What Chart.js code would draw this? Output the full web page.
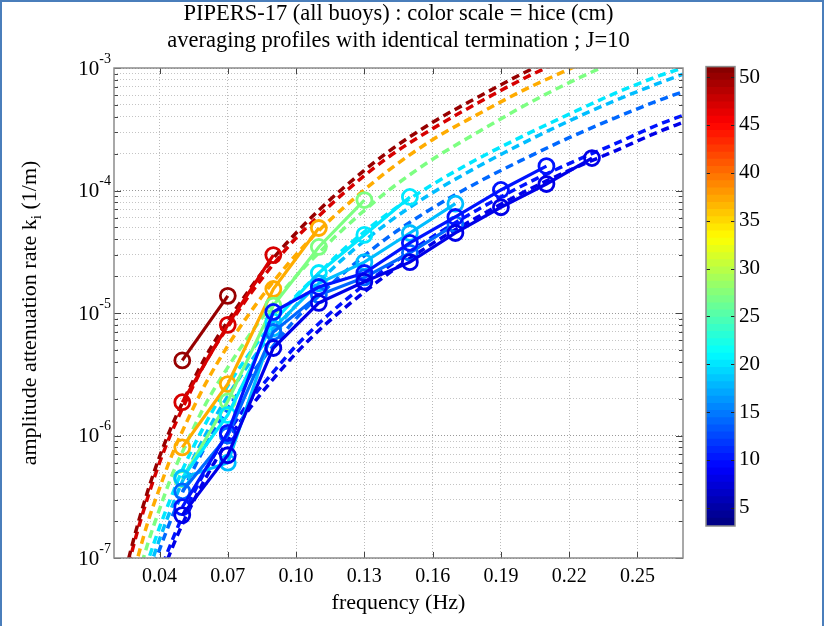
<!DOCTYPE html>
<html>
<head>
<meta charset="utf-8">
<script src="https://cdn.jsdelivr.net/npm/chart.js@4.4.0/dist/chart.umd.min.js"></script>
<style>
  html, body { margin: 0; padding: 0; background: #fff; }
  body { width: 826px; height: 626px; position: relative; overflow: hidden; }
  #frame { position: absolute; left: 0; top: 0; width: 820px; height: 640px; border: 2px solid #4a7ebb; }
  #main { position: absolute; left: 0; top: 0; }
  #cbar { position: absolute; left: 690px; top: 50px; }
</style>
</head>
<body>
<div id="frame"></div>
<canvas id="main" width="826" height="626"></canvas>
<canvas id="cbar" width="136" height="500"></canvas>
<script>
const mainCanvas = document.querySelector("#main");
const cbarCanvas = document.querySelector("#cbar");

// ticks
const freqTicks = [0.04, 0.07, 0.10, 0.13, 0.16, 0.19, 0.22, 0.25];
const decades = [1e-7, 1e-6, 1e-5, 1e-4, 1e-3];
const cbarTicks = [5, 10, 15, 20, 25, 30, 35, 40, 45, 50];
const hiceMin = 3.1;
const hiceMax = 51.1;

// ice thickness (cm) of each group, dark red -> dark blue
const hice = [50, 47, 37, 27, 20, 18, 14, 10, 8];

// dashed model curves, sampled at freqFit
const freqFit = [0.025, 0.03, 0.035, 0.04, 0.045, 0.05, 0.06, 0.07, 0.08, 0.09, 0.10, 0.11, 0.12, 0.14, 0.16, 0.18, 0.20, 0.22, 0.24, 0.26, 0.27];
const fitDarkRed = [7.8e-8, 1.76e-7, 3.6e-7, 6.7e-7, 1.15e-6, 1.84e-6, 4.3e-6, 8.6e-6, 1.6e-5, 2.8e-5, 4.5e-5, 6.9e-5, 1.02e-4, 2.04e-4, 3.6e-4, 5.8e-4, 9.1e-4, 1.36e-3, 1.96e-3, 2.6e-3, 3.0e-3];
const fitRed = [7.0e-8, 1.58e-7, 3.2e-7, 6.0e-7, 1.03e-6, 1.65e-6, 3.9e-6, 7.7e-6, 1.44e-5, 2.5e-5, 4.1e-5, 6.2e-5, 9.2e-5, 1.84e-4, 3.2e-4, 5.2e-4, 8.2e-4, 1.22e-3, 1.76e-3, 2.3e-3, 2.7e-3];
const fitOrange = [4.0e-8, 9.4e-8, 2.0e-7, 3.7e-7, 6.6e-7, 1.08e-6, 2.6e-6, 5.4e-6, 1.02e-5, 1.8e-5, 3.0e-5, 4.7e-5, 7.0e-5, 1.43e-4, 2.6e-4, 4.2e-4, 6.6e-4, 9.8e-4, 1.45e-3, 2.1e-3, 2.4e-3];
const fitGreen = [2.8e-8, 6.4e-8, 1.34e-7, 2.5e-7, 4.5e-7, 7.3e-7, 1.77e-6, 3.6e-6, 6.8e-6, 1.2e-5, 2.0e-5, 3.1e-5, 4.7e-5, 9.8e-5, 1.8e-4, 3.0e-4, 4.9e-4, 7.6e-4, 1.12e-3, 1.55e-3, 1.8e-3];
const fitCyan = [2.0e-8, 4.6e-8, 9.5e-8, 1.78e-7, 3.1e-7, 5.2e-7, 1.23e-6, 2.55e-6, 4.8e-6, 8.4e-6, 1.38e-5, 2.1e-5, 3.2e-5, 6.4e-5, 1.12e-4, 1.82e-4, 2.8e-4, 4.2e-4, 6.2e-4, 8.7e-4, 1.0e-3];
const fitLightBlue = [1.57e-8, 3.6e-8, 7.5e-8, 1.42e-7, 2.5e-7, 4.2e-7, 1.0e-6, 2.1e-6, 4.0e-6, 7.0e-6, 1.16e-5, 1.79e-5, 2.7e-5, 5.4e-5, 9.6e-5, 1.57e-4, 2.45e-4, 3.7e-4, 5.4e-4, 7.6e-4, 8.9e-4];
const fitMidBlue = [1.34e-8, 3.05e-8, 6.3e-8, 1.17e-7, 2.05e-7, 3.4e-7, 8.1e-7, 1.66e-6, 3.1e-6, 5.4e-6, 9.0e-6, 1.38e-5, 2.05e-5, 4.1e-5, 7.2e-5, 1.17e-4, 1.8e-4, 2.7e-4, 3.9e-4, 5.5e-4, 6.4e-4];
const fitBlue = [8.6e-9, 1.95e-8, 4.0e-8, 7.5e-8, 1.31e-7, 2.17e-7, 5.1e-7, 1.04e-6, 1.95e-6, 3.3e-6, 5.4e-6, 8.2e-6, 1.2e-5, 2.35e-5, 4.2e-5, 7.0e-5, 1.11e-4, 1.66e-4, 2.4e-4, 3.5e-4, 4.1e-4];
const fitDarkBlue = [7.4e-9, 1.68e-8, 3.5e-8, 6.5e-8, 1.14e-7, 1.88e-7, 4.4e-7, 9.1e-7, 1.7e-6, 2.9e-6, 4.7e-6, 7.2e-6, 1.05e-5, 2.06e-5, 3.7e-5, 6.1e-5, 9.7e-5, 1.46e-4, 2.1e-4, 3.05e-4, 3.6e-4];

// measured profiles (circles), starting at 0.05 Hz
const freqObs = [0.05, 0.07, 0.09, 0.11, 0.13, 0.15, 0.17, 0.19, 0.21, 0.23];
const obsDarkRed = [4.1e-6, 1.38e-5];
const obsRed = [1.87e-6, 8.0e-6, 2.97e-5];
const obsOrange = [8.0e-7, 2.63e-6, 1.57e-5, 4.94e-5];
const obsGreen = [4.4e-7, 1.9e-6, 1.15e-5, 3.46e-5, 8.36e-5];
const obsCyan = [4.5e-7, 1.47e-6, 8.5e-6, 2.12e-5, 4.34e-5, 8.86e-5];
const obsLightBlue = [4.5e-7, 6.0e-7, 7.5e-6, 1.75e-5, 2.6e-5, 4.5e-5, 7.8e-5];
const obsMidBlue = [3.5e-7, 1.0e-6, 7.0e-6, 1.4e-5, 1.95e-5, 3.1e-5, 5.3e-5];
const obsBlue = [2.6e-7, 1.05e-6, 1.02e-5, 1.63e-5, 2.12e-5, 3.73e-5, 6.08e-5, 1.01e-4, 1.58e-4];
const obsDarkBlue = [2.24e-7, 6.9e-7, 5.18e-6, 1.21e-5, 1.8e-5, 2.6e-5, 4.5e-5, 7.3e-5, 1.13e-4, 1.84e-4];

const fitCurves = [fitDarkRed, fitRed, fitOrange, fitGreen, fitCyan, fitLightBlue, fitMidBlue, fitBlue, fitDarkBlue];
const obsCurves = [obsDarkRed, obsRed, obsOrange, obsGreen, obsCyan, obsLightBlue, obsMidBlue, obsBlue, obsDarkBlue];

const serif = '"Liberation Serif", "Times New Roman", serif';
Chart.defaults.color = "#000";
Chart.defaults.font.family = serif;

// matlab jet colormap
const jet = (v) => {
  const t = (v - hiceMin) / (hiceMax - hiceMin);
  const c = (x) => Math.round(255 * Math.max(0, Math.min(1, 1.5 - Math.abs(x))));
  return `rgb(${c(4 * t - 3)},${c(4 * t - 2)},${c(4 * t - 1)})`;
};

const isDecade = (v) => Math.abs(Math.log10(v) - Math.round(Math.log10(v))) < 1e-6;

// minor ticks 1..9 in every decade
let yTickValues = [];
decades.forEach((d, i) => {
  if (i === decades.length - 1) {
    yTickValues.push(d);
    return;
  }
  for (let m = 1; m <= 9; m++) yTickValues.push(m * d);
});

let datasets = [];
// solid profiles, blues first so they end up on top
for (let i = hice.length - 1; i >= 0; i--) {
  datasets.push({
    data: obsCurves[i].map((k, j) => ({ x: freqObs[j], y: k })),
    borderColor: jet(hice[i]),
    borderWidth: 3.2,
    pointRadius: 7.5,
    pointBorderWidth: 2.8,
    pointBorderColor: jet(hice[i]),
    pointBackgroundColor: "rgba(0,0,0,0)",
    tension: 0,
    order: 1,
    clip: 0,
  });
}
for (let i = 0; i < hice.length; i++) {
  datasets.push({
    data: fitCurves[i].map((k, j) => ({ x: freqFit[j], y: k })),
    borderColor: jet(hice[i]),
    borderWidth: 3.5,
    borderDash: [8, 5],
    pointRadius: 0,
    cubicInterpolationMode: "monotone",
    order: 2,
    clip: 0,
  });
}

const decor = {
  id: "decor",
  afterDraw(chart) {
    const { ctx, chartArea: a } = chart;
    const x = chart.scales.x;
    const y = chart.scales.y;
    ctx.save();

    // inward tick marks
    ctx.strokeStyle = "#444";
    ctx.lineWidth = 1;
    ctx.beginPath();
    y.ticks.forEach((t) => {
      const py = Math.round(y.getPixelForValue(t.value)) + 0.5;
      const len = isDecade(t.value) ? 7 : 4;
      ctx.moveTo(a.left, py);
      ctx.lineTo(a.left + len, py);
      ctx.moveTo(a.right - len, py);
      ctx.lineTo(a.right, py);
    });
    x.ticks.forEach((t) => {
      const px = Math.round(x.getPixelForValue(t.value)) + 0.5;
      ctx.moveTo(px, a.bottom);
      ctx.lineTo(px, a.bottom - 6);
      ctx.moveTo(px, a.top);
      ctx.lineTo(px, a.top + 6);
    });
    ctx.stroke();

    ctx.strokeStyle = "#8c8c8c";
    ctx.lineWidth = 1.5;
    ctx.strokeRect(a.left, a.top, a.right - a.left, a.bottom - a.top);

    // y tick labels 10^n
    ctx.fillStyle = "#000";
    ctx.textBaseline = "middle";
    ctx.textAlign = "right";
    decades.forEach((d) => {
      const py = y.getPixelForValue(d);
      const sup = String(Math.round(Math.log10(d)));
      ctx.font = "14px " + serif;
      const sw = ctx.measureText(sup).width;
      ctx.fillText(sup, a.left - 3, py - 9);
      ctx.font = "21px " + serif;
      ctx.fillText("10", a.left - 3 - sw, py + 1);
    });

    // y axis label with subscript
    const part1 = "amplitude attenuation rate k";
    const sub = "i";
    const part2 = " (1/m)";
    ctx.font = "22px " + serif;
    const w1 = ctx.measureText(part1).width;
    const w3 = ctx.measureText(part2).width;
    ctx.font = "15px " + serif;
    const w2 = ctx.measureText(sub).width;
    const total = w1 + w2 + w3;
    ctx.translate(30, (a.top + a.bottom) / 2);
    ctx.rotate(-Math.PI / 2);
    ctx.textAlign = "left";
    ctx.font = "22px " + serif;
    ctx.fillText(part1, -total / 2, 0);
    ctx.fillText(part2, -total / 2 + w1 + w2, 0);
    ctx.font = "15px " + serif;
    ctx.fillText(sub, -total / 2 + w1, 7);
    ctx.setTransform(1, 0, 0, 1, 0, 0);

    // two line title
    const cx = (a.left + a.right) / 2;
    ctx.textAlign = "center";
    ctx.font = "22.5px " + serif;
    ctx.fillText("PIPERS-17 (all buoys) : color scale = hice (cm)", cx, 14);
    ctx.fillText("averaging profiles with identical termination ; J=10", cx, 41);
    ctx.restore();
  },
};

const mainChart = new Chart(mainCanvas, {
  type: "line",
  data: { datasets: datasets },
  options: {
    responsive: false,
    animation: false,
    events: [],
    layout: { padding: { left: 0, right: 143, top: 68, bottom: 0 } },
    plugins: { legend: { display: false }, tooltip: { enabled: false } },
    scales: {
      x: {
        type: "linear",
        min: 0.02,
        max: 0.27,
        afterBuildTicks: (scale) => {
          scale.ticks = freqTicks.map((v) => ({ value: v }));
        },
        afterFit: (scale) => {
          scale.height = 68;
        },
        ticks: {
          autoSkip: false,
          maxRotation: 0,
          padding: 7,
          font: { size: 20, family: serif },
          callback: (v) => Number(v).toFixed(2),
        },
        grid: { color: "#bbb", drawTicks: false },
        border: { display: false, dash: [1, 2] },
        title: {
          display: true,
          text: "frequency (Hz)",
          font: { size: 22, family: serif },
          padding: { top: 0, bottom: 10 },
        },
      },
      y: {
        type: "logarithmic",
        min: 1e-7,
        max: 1e-3,
        afterBuildTicks: (scale) => {
          scale.ticks = yTickValues.map((v) => ({ value: v, major: isDecade(v) }));
        },
        afterFit: (scale) => {
          scale.width = 114;
        },
        ticks: { display: false, autoSkip: false },
        grid: {
          drawTicks: false,
          color: (ctx) => (ctx.tick && isDecade(ctx.tick.value) ? "#999" : "#c4c4c4"),
        },
        border: { display: false, dash: [1, 2] },
      },
    },
  },
  plugins: [decor],
});

// colorbar: 64 jet levels as floating bars
const nLevels = 64;
let levelSets = [];
for (let i = 0; i < nLevels; i++) {
  const lo = hiceMin + ((hiceMax - hiceMin) * i) / nLevels;
  const hi = hiceMin + ((hiceMax - hiceMin) * (i + 1)) / nLevels;
  levelSets.push({
    data: [[lo, Math.min(hi + 0.08, hiceMax)]],
    backgroundColor: jet((lo + hi) / 2),
    borderWidth: 0,
    grouped: false,
    barPercentage: 1,
    categoryPercentage: 1,
  });
}

const cbarFrame = {
  id: "cbarFrame",
  afterDraw(chart) {
    const { ctx, chartArea: a } = chart;
    const y = chart.scales.y;
    ctx.save();
    ctx.strokeStyle = "#222";
    ctx.lineWidth = 1;
    ctx.beginPath();
    cbarTicks.forEach((v) => {
      const py = Math.round(y.getPixelForValue(v)) + 0.5;
      ctx.moveTo(a.left, py);
      ctx.lineTo(a.left + 4, py);
      ctx.moveTo(a.right - 4, py);
      ctx.lineTo(a.right, py);
    });
    ctx.stroke();
    ctx.strokeStyle = "#8c8c8c";
    ctx.lineWidth = 1.5;
    ctx.strokeRect(a.left, a.top, a.right - a.left, a.bottom - a.top);
    ctx.restore();
  },
};

const cbarChart = new Chart(cbarCanvas, {
  type: "bar",
  data: { labels: [""], datasets: levelSets },
  options: {
    responsive: false,
    animation: false,
    events: [],
    layout: { padding: { left: 16, right: 0, top: 16, bottom: 24 } },
    plugins: { legend: { display: false }, tooltip: { enabled: false } },
    scales: {
      x: { display: false },
      y: {
        position: "right",
        min: hiceMin,
        max: hiceMax,
        afterBuildTicks: (scale) => {
          scale.ticks = cbarTicks.map((v) => ({ value: v }));
        },
        afterFit: (scale) => {
          scale.width = 91;
        },
        ticks: { padding: 4, font: { size: 21, family: serif } },
        grid: { display: false, drawTicks: false },
        border: { display: false },
      },
    },
  },
  plugins: [cbarFrame],
});
</script>
</body>
</html>
